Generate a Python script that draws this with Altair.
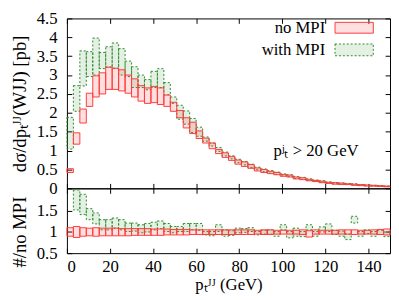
import altair as alt
import pandas as pd

BIN = 3
x_lo = [BIN * i for i in range(50)]

# top panel: d sigma / d pT bands (pb)
red_lo = [0.42, 1.17, 1.73, 2.17, 2.42, 2.50, 2.62, 2.62, 2.58, 2.52,
          2.42, 2.31, 2.25, 2.27, 2.22, 2.17, 2.04, 1.87, 1.60, 1.45,
          1.32, 1.20, 1.05, 0.92, 0.82, 0.74, 0.64, 0.58, 0.53, 0.46,
          0.42, 0.39, 0.36, 0.32, 0.30, 0.25, 0.23, 0.20, 0.18, 0.15,
          0.13, 0.11, 0.10, 0.10, 0.08, 0.07, 0.06, 0.06, 0.05, 0.04]
red_hi = [0.52, 1.47, 2.10, 2.52, 2.98, 3.06, 3.21, 3.18, 3.14, 3.00,
          2.90, 2.72, 2.66, 2.70, 2.66, 2.47, 2.28, 2.06, 1.87, 1.75,
          1.52, 1.33, 1.20, 1.03, 0.94, 0.84, 0.75, 0.70, 0.63, 0.54,
          0.50, 0.45, 0.42, 0.37, 0.35, 0.30, 0.28, 0.24, 0.21, 0.19,
          0.16, 0.15, 0.14, 0.12, 0.11, 0.10, 0.09, 0.08, 0.07, 0.06]
grn_lo = [1.04, 2.04, 2.71, 2.96, 3.00, 3.17, 3.21, 3.18, 3.00, 2.96,
          2.67, 2.67, 2.61, 2.67, 2.67, 2.48, 2.25, 1.83, 1.70, 1.48,
          1.38, 1.25, 1.12, 0.98, 0.86, 0.78, 0.68, 0.62, 0.55, 0.49,
          0.44, 0.40, 0.37, 0.33, 0.31, 0.26, 0.24, 0.21, 0.19, 0.16,
          0.14, 0.12, 0.11, 0.10, 0.09, 0.08, 0.07, 0.06, 0.05, 0.05]
grn_hi = [1.88, 2.72, 3.64, 3.62, 3.98, 3.60, 3.75, 3.85, 3.70, 3.37,
          3.22, 3.00, 2.88, 3.10, 3.17, 2.80, 2.42, 2.20, 2.05, 1.85,
          1.62, 1.36, 1.20, 1.08, 0.96, 0.86, 0.77, 0.71, 0.64, 0.56,
          0.51, 0.47, 0.43, 0.38, 0.36, 0.31, 0.29, 0.25, 0.22, 0.20,
          0.17, 0.15, 0.14, 0.13, 0.12, 0.10, 0.09, 0.08, 0.07, 0.06]

# bottom panel: ratio to "no MPI"
rr_lo = [0.90, 0.87, 0.90, 0.91, 0.90, 0.91, 0.91, 0.91, 0.91, 0.91,
         0.92, 0.92, 0.92, 0.92, 0.92, 0.93, 0.93, 0.93, 0.93, 0.94,
         0.94, 0.94, 0.94, 0.94, 0.94, 0.94, 0.94, 0.94, 0.94, 0.95,
         0.94, 0.94, 0.95, 0.95, 0.95, 0.95, 0.94, 0.88, 0.95, 0.95,
         0.95, 0.95, 0.95, 0.95, 0.94, 0.95, 0.95, 0.95, 0.94, 0.93]
rr_hi = [1.10, 1.13, 1.10, 1.09, 1.10, 1.09, 1.09, 1.09, 1.08, 1.08,
         1.08, 1.08, 1.08, 1.07, 1.07, 1.07, 1.06, 1.06, 1.06, 1.05,
         1.05, 1.05, 1.05, 1.05, 1.05, 1.05, 1.05, 1.05, 1.05, 1.04,
         1.05, 1.05, 1.04, 1.04, 1.04, 1.04, 1.05, 1.03, 1.05, 1.04,
         1.04, 1.04, 1.05, 1.05, 1.05, 1.04, 1.04, 1.05, 1.06, 1.07]
gr_lo = [None, 1.52, 1.41, 1.29, 1.19, 1.05, 1.05, 1.09, 1.05, 1.01,
         1.02, 0.98, 1.00, 1.05, 1.08, 1.01, 0.98, 1.01, 1.01, 1.05,
         1.04, 0.93, 0.91, 1.01, 0.90, 0.92, 0.98, 0.99, 1.01, 0.93,
         0.95, 0.95, 0.90, 1.05, 0.86, 0.90, 0.89, 1.05, 0.90, 1.00,
         1.01, 0.94, 0.90, 0.82, 1.21, 0.90, 0.96, 0.90, 0.94, 0.89]
gr_hi = [None, 1.99, 1.89, 1.55, 1.45, 1.29, 1.29, 1.33, 1.29, 1.21,
         1.21, 1.17, 1.20, 1.23, 1.26, 1.20, 1.13, 1.13, 1.20, 1.20,
         1.20, 1.01, 1.01, 1.17, 1.05, 1.03, 1.09, 1.08, 1.10, 1.01,
         1.04, 1.05, 1.01, 1.17, 1.01, 1.09, 1.01, 1.17, 1.01, 1.12,
         1.19, 1.04, 1.02, 0.95, 1.37, 1.01, 1.05, 1.01, 1.04, 1.00]

x_ticks = [0, 20, 40, 60, 80, 100, 120, 140]
y_ticks_top = [0, 0.5, 1, 1.5, 2, 2.5, 3, 3.5, 4, 4.5]
y_ticks_bot = [0.5, 1, 1.5]
series_names = ["no MPI", "with MPI"]


def band_df(lo, hi):
    rows = [{"x0": a, "x1": a + BIN, "lo": l, "hi": h}
            for a, l, h in zip(x_lo, lo, hi) if l is not None]
    return pd.DataFrame(rows)


FONT = "Liberation Serif"
RED = "#ff3b3b"
GREEN = "#2a8a2a"
W, H1, H2 = 329, 173, 66
FS = 17

xs = alt.Scale(domain=[0, 150], nice=False, zero=False)
ys_top = alt.Scale(domain=[0, 4.5], nice=False, zero=False)
ys_bot = alt.Scale(domain=[0.5, 2.03], nice=False, zero=False)


def xaxis(orient, labels, title=None):
    kw = dict(orient=orient, values=x_ticks, labels=labels, tickSize=5, offset=-5,
              domain=False, grid=False, labelPadding=6, titlePadding=2, labelOverlap=False)
    kw["title"] = title
    return alt.Axis(**kw)


def yaxis(orient, ticks, labels, title=None, **extra):
    return alt.Axis(orient=orient, values=ticks, labels=labels, title=title, tickSize=5,
                    offset=-5, domain=False, grid=False, labelPadding=10, titlePadding=7,
                    titleFontSize=19, format="~g", labelOverlap=False, **extra)


def band_layer(df, color, dashed, xax, yax, yscale):
    props = dict(fill=color, fillOpacity=0.16, stroke=color, strokeWidth=1)
    if dashed:
        props["strokeDash"] = [2, 2]
        props["fillOpacity"] = 0.13
    return alt.Chart(df).mark_rect(**props).encode(
        x=alt.X("x0:Q", scale=xs, axis=xax),
        x2="x1:Q",
        y=alt.Y("lo:Q", scale=yscale, axis=yax),
        y2="hi:Q",
    )


dummy = pd.DataFrame({"k": [0]})

g_top = band_layer(band_df(grn_lo, grn_hi), GREEN, True, xaxis("bottom", False),
                   yaxis("left", y_ticks_top, True, "dσ/dpₜᴶᴶ(WJJ) [pb]"), ys_top)
r_top = band_layer(band_df(red_lo, red_hi), RED, False, xaxis("top", False),
                   yaxis("right", y_ticks_top, False), ys_top)

leg_t1 = alt.Chart(dummy).mark_text(align="right", baseline="alphabetic", font=FONT,
                                    fontSize=FS, color="black").encode(
    x=alt.value(263), y=alt.value(15), text=alt.value(series_names[0]))
leg_t2 = alt.Chart(dummy).mark_text(align="right", baseline="alphabetic", font=FONT,
                                    fontSize=FS, color="black").encode(
    x=alt.value(263), y=alt.value(37), text=alt.value(series_names[1]))
leg_r1 = alt.Chart(dummy).mark_rect(fill=RED, fillOpacity=0.16, stroke=RED, strokeWidth=1).encode(
    x=alt.value(273), x2=alt.value(312), y=alt.value(4), y2=alt.value(15))
leg_r2 = alt.Chart(dummy).mark_rect(fill=GREEN, fillOpacity=0.13, stroke=GREEN, strokeWidth=1,
                                    strokeDash=[2, 2]).encode(
    x=alt.value(273), x2=alt.value(312), y=alt.value(26), y2=alt.value(38))
note = alt.Chart(dummy).mark_text(align="right", baseline="alphabetic", font=FONT,
                                  fontSize=FS, color="black").encode(
    x=alt.value(297), y=alt.value(140), text=alt.value("pʲₜ > 20 GeV"))

top = alt.layer(g_top, r_top, leg_r1, leg_r2, leg_t1, leg_t2, note).resolve_axis(
    x="independent", y="independent").properties(width=W, height=H1)

g_bot = band_layer(band_df(gr_lo, gr_hi), GREEN, True, xaxis("bottom", True, "pₜᴶᴶ (GeV)"),
                   yaxis("left", y_ticks_bot, True, "#/no MPI", titleY=44), ys_bot)
r_bot = band_layer(band_df(rr_lo, rr_hi), RED, False, xaxis("top", False),
                   yaxis("right", y_ticks_bot, False), ys_bot)

bottom = alt.layer(g_bot, r_bot).resolve_axis(x="independent", y="independent").properties(
    width=W, height=H2)

chart = alt.vconcat(top, bottom, spacing=0, bounds="flush").properties(
    padding={"left": 2, "top": -2, "right": 0, "bottom": 0}
).configure_view(stroke="black", strokeWidth=1).configure_axis(
    labelFont=FONT, titleFont=FONT, labelFontSize=FS, titleFontSize=FS,
    labelColor="black", titleColor="black", titleFontWeight="normal",
    tickColor="black", tickWidth=1
)

chart.save("out.html", embed_options={"renderer": "svg", "actions": False})
